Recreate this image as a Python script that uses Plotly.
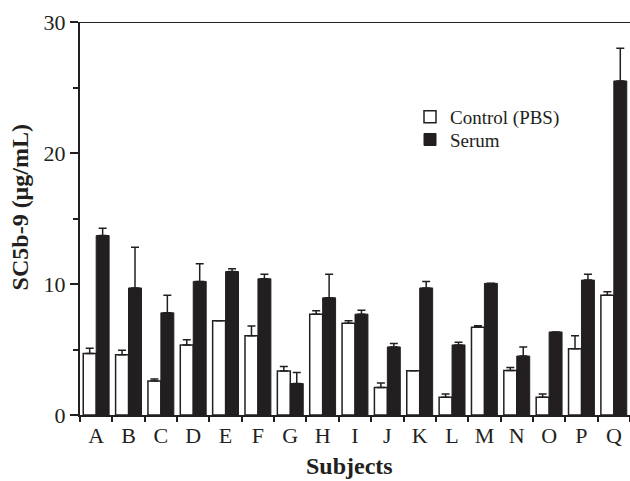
import plotly.graph_objects as go

subjects = ["A","B","C","D","E","F","G","H","I","J","K","L","M","N","O","P","Q"]
control = [4.7, 4.6, 2.6, 5.35, 7.2, 6.05, 3.35, 7.7, 7.0, 2.1, 3.38, 1.35, 6.7, 3.4, 1.35, 5.05, 9.15]
control_err = [0.4, 0.35, 0.15, 0.4, 0.0, 0.75, 0.35, 0.25, 0.2, 0.35, 0.0, 0.25, 0.12, 0.23, 0.25, 1.0, 0.25]
serum = [13.7, 9.7, 7.8, 10.2, 10.95, 10.4, 2.4, 8.95, 7.7, 5.2, 9.7, 5.35, 10.05, 4.5, 6.34, 10.3, 25.5]
serum_err = [0.55, 3.1, 1.35, 1.35, 0.22, 0.35, 0.85, 1.8, 0.3, 0.25, 0.5, 0.2, 0.0, 0.7, 0.0, 0.45, 2.5]

dark = "#231f20"
font_family = "Liberation Serif"

fig = go.Figure()
fig.add_trace(go.Bar(
    x=subjects, y=control, name="Control (PBS)", legend="legend",
    marker=dict(color="white", line=dict(color=dark, width=1.5)),
    error_y=dict(type="data", array=control_err, arrayminus=[0]*len(control_err),
                 symmetric=False, color=dark, thickness=1.5, width=4),
))
fig.add_trace(go.Bar(
    x=subjects, y=serum, name="Serum", legend="legend2",
    marker=dict(color=dark, line=dict(color=dark, width=1)),
    error_y=dict(type="data", array=serum_err, arrayminus=[0]*len(serum_err),
                 symmetric=False, color=dark, thickness=1.5, width=4),
))

legend_common = dict(xanchor="left", yanchor="top",
                     font=dict(size=19, family=font_family, color=dark),
                     bgcolor="rgba(0,0,0,0)")

fig.update_layout(
    width=630, height=481,
    margin=dict(l=80, r=0, t=22, b=66),
    paper_bgcolor="white", plot_bgcolor="white",
    barmode="group", bargap=0.2, bargroupgap=0,
    font=dict(family=font_family, color=dark),
    showlegend=True,
    legend=dict(x=0.6, y=0.807, **legend_common),
    legend2=dict(x=0.6, y=0.749, **legend_common),
    annotations=[
        dict(text="<b>Subjects</b>", x=0.49, y=-0.13, xref="paper", yref="paper",
             xanchor="center", yanchor="middle", showarrow=False,
             font=dict(size=24, family=font_family, color=dark)),
        dict(text="<b>SC5b-9 (μg/mL)</b>", x=-0.11, y=0.527, xref="paper", yref="paper",
             xanchor="center", yanchor="middle", textangle=-90, showarrow=False,
             font=dict(size=24, family=font_family, color=dark)),
    ],
)
fig.update_xaxes(
    type="category", range=[-0.5, 16.5], tickson="boundaries",
    ticks="outside", ticklen=5, tickwidth=1.5, tickcolor=dark,
    showline=True, linecolor=dark, linewidth=2, showgrid=False,
    tickfont=dict(size=22, family=font_family, color=dark),
    zeroline=False,
)
fig.update_yaxes(
    range=[0, 30], tickvals=[0, 10, 20, 30],
    ticks="outside", ticklen=8, tickwidth=1.5, tickcolor=dark,
    minor=dict(tickvals=[5, 15, 25], ticks="outside", ticklen=5, tickwidth=1.5, tickcolor=dark, showgrid=False),
    showline=True, linecolor=dark, linewidth=2, mirror=False, showgrid=False, zeroline=False,
    tickfont=dict(size=22, family=font_family, color=dark),
)
# top border line at y=30
fig.add_shape(type="line", xref="paper", yref="y", x0=0, x1=1, y0=30, y1=30,
              line=dict(color=dark, width=2))

fig.write_html("out.html")
